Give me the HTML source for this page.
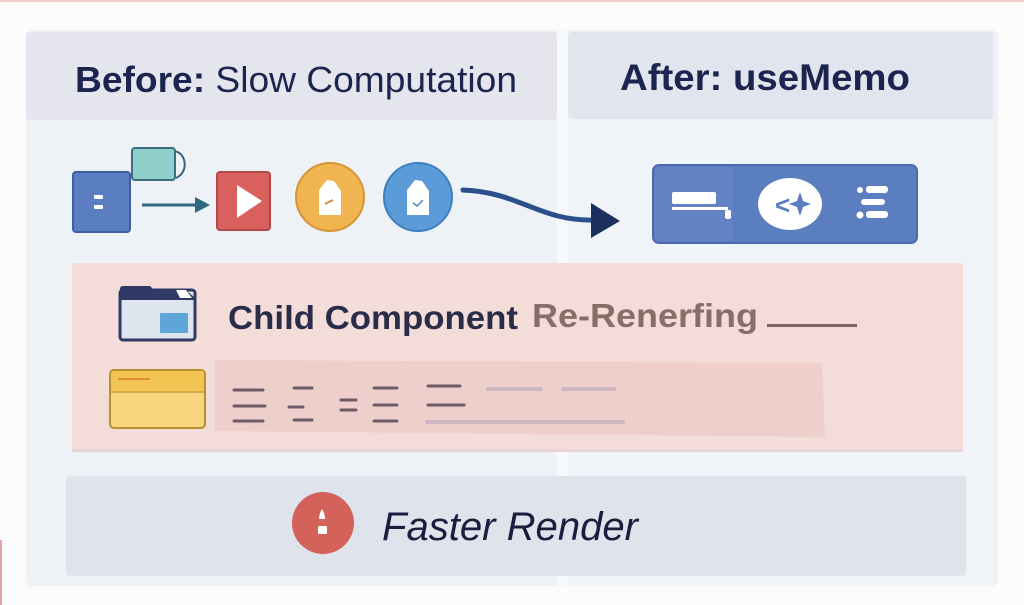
<!DOCTYPE html>
<html>
<head>
<meta charset="utf-8">
<style>
  html, body { margin: 0; padding: 0; background: #fbfbfc; }
  body { width: 1024px; height: 605px; overflow: hidden; }
  svg { display: block; }
</style>
</head>
<body>
<svg width="1024" height="605" viewBox="0 0 1024 605" xmlns="http://www.w3.org/2000/svg">
  <!-- page background -->
  <rect x="0" y="0" width="1024" height="605" fill="#fbfbfc"/>
  <rect x="0" y="0" width="1024" height="2" fill="#efd0cd"/>
  <rect x="0" y="540" width="2" height="65" fill="#d9a8a4"/>

  <!-- outer panel -->
  <rect x="26" y="30" width="972" height="556" rx="6" fill="#eef2f7"/>
  <!-- headers -->
  <rect x="26" y="32" width="531" height="88" rx="4" fill="#e5e5ee"/>
  <rect x="568" y="32" width="425" height="87" rx="4" fill="#e1e6ee"/>
  <!-- divider -->
  <rect x="557" y="30" width="11" height="556" fill="#f7f8fb"/>
  <rect x="568" y="119" width="425" height="467" fill="#f0f3f8"/>

  <!-- header texts -->
  <text x="75" y="92" font-family="Liberation Sans, sans-serif" font-size="36" fill="#1c2550" textLength="442" lengthAdjust="spacingAndGlyphs"><tspan font-weight="bold">Before:</tspan> Slow Computation</text>
  <text x="620" y="90" font-family="Liberation Sans, sans-serif" font-size="37" font-weight="bold" fill="#1c2550" textLength="290" lengthAdjust="spacingAndGlyphs">After: useMemo</text>

  <!-- icon row: left -->
  <!-- teal rect with loop -->
  <path d="M172,151 C186,150 190,172 176,178" fill="none" stroke="#3d5f80" stroke-width="2"/>
  <rect x="132" y="148" width="43" height="32" rx="3" fill="#8fd0cd" stroke="#3b6f80" stroke-width="2"/>
  <!-- blue square -->
  <rect x="73" y="172" width="57" height="60" rx="3" fill="#5b7ec2" stroke="#3d5f9f" stroke-width="2"/>
  <rect x="94" y="195" width="9" height="4" rx="1" fill="#ffffff"/>
  <rect x="94" y="205" width="9" height="4" rx="1" fill="#ffffff"/>
  <!-- arrow -->
  <line x1="142" y1="205" x2="198" y2="205" stroke="#2e6a80" stroke-width="3"/>
  <polygon points="195,197 210,205 195,213" fill="#2e6a80"/>
  <!-- red play -->
  <rect x="217" y="172" width="53" height="58" rx="3" fill="#d9605c" stroke="#b04a48" stroke-width="2"/>
  <polygon points="237,185 262,201 237,218" fill="#ffffff"/>
  <!-- orange circle -->
  <circle cx="330" cy="197" r="34" fill="#f0b450" stroke="#d69535" stroke-width="2"/>
  <path d="M319,190 L327,180 L334,181 L341,191 L341,215 L319,215 Z" fill="#ffffff"/>
  <line x1="325" y1="204" x2="333" y2="200" stroke="#d98a3a" stroke-width="2"/>
  <!-- blue circle -->
  <circle cx="418" cy="197" r="34" fill="#5a9bd8" stroke="#3f7fbf" stroke-width="2"/>
  <path d="M407,190 L415,180 L422,181 L429,191 L429,215 L407,215 Z" fill="#ffffff"/>
  <path d="M413,203 L417,206 L423,200" fill="none" stroke="#4a8ac8" stroke-width="1.5"/>
  <!-- curved arrow -->
  <path d="M463,190 C520,192 540,222 596,220" fill="none" stroke="#2b4f8a" stroke-width="5" stroke-linecap="round"/>
  <polygon points="591,203 620,221 591,238" fill="#1d2f5e"/>

  <!-- blue memo box -->
  <rect x="653" y="165" width="264" height="78" rx="6" fill="#5b7ec0" stroke="#4a6aaa" stroke-width="2"/>
  <rect x="655" y="167" width="78" height="74" rx="4" fill="#6384c4"/>
  <rect x="672" y="192" width="44" height="12" rx="2" fill="#ffffff"/>
  <rect x="672" y="207" width="56" height="3" fill="#ffffff"/>
  <rect x="725" y="210" width="6" height="9" rx="2" fill="#ffffff"/>
  <ellipse cx="790" cy="204" rx="32" ry="26" fill="#ffffff"/>
  <text x="775" y="214" font-family="Liberation Sans, sans-serif" font-size="26" font-weight="bold" fill="#5b7ec0">&lt;</text>
  <path d="M800,192 L803,201 L811,204 L803,207 L800,216 L797,207 L789,204 L797,201 Z" fill="#5b7ec0"/>
  <circle cx="860" cy="190" r="3" fill="#ffffff"/>
  <rect x="866" y="186" width="22" height="7" rx="3" fill="#ffffff"/>
  <rect x="861" y="199" width="24" height="6" rx="3" fill="#ffffff"/>
  <circle cx="860" cy="215" r="3.5" fill="#ffffff"/>
  <rect x="866" y="211" width="22" height="7" rx="3" fill="#ffffff"/>

  <!-- pink band -->
  <rect x="72" y="263" width="891" height="187" rx="3" fill="#f4dcd9"/>
  <rect x="72" y="449" width="891" height="3" fill="#e6d3d4"/>
  <polygon points="215,360 822,363 825,437 215,431" fill="#eecfcc"/>

  <!-- folder icon -->
  <rect x="120" y="290" width="75" height="50" rx="3" fill="#dfe5ef" stroke="#2f3a66" stroke-width="3"/>
  <path d="M120,300 L120,289 Q120,286 123,286 L150,286 L154,290 L186,290 L195,298 L195,300 Z" fill="#2f3a66"/>
  <path d="M176,290 L186,290 L192,298 L180,298 Z" fill="#ffffff"/>
  <rect x="160" y="313" width="28" height="20" rx="1" fill="#5ea6d8"/>

  <text x="228" y="329" font-family="Liberation Sans, sans-serif" font-size="33" font-weight="bold" fill="#2a2d4a" textLength="290" lengthAdjust="spacingAndGlyphs">Child Component</text>
  <text x="532" y="327" font-family="Liberation Sans, sans-serif" font-size="33" font-weight="bold" fill="#8a6d68" textLength="226" lengthAdjust="spacingAndGlyphs">Re-Renerfing</text>
  <rect x="767" y="324" width="90" height="3" fill="#7d6560"/>

  <!-- yellow card -->
  <rect x="110" y="370" width="95" height="58" rx="4" fill="#f7d67f" stroke="#b8912e" stroke-width="2"/>
  <path d="M111,392 L111,374 Q111,371 114,371 L201,371 Q204,371 204,374 L204,392 Z" fill="#f2c552"/>
  <line x1="111" y1="392" x2="204" y2="392" stroke="#c9a23c" stroke-width="1.5"/>
  <line x1="118" y1="379" x2="150" y2="379" stroke="#e08a3a" stroke-width="2"/>

  <!-- dashes -->
  <g stroke="#6e5b68" stroke-width="3" stroke-linecap="round">
    <line x1="234" y1="390" x2="263" y2="390"/>
    <line x1="234" y1="406" x2="265" y2="406"/>
    <line x1="234" y1="421" x2="263" y2="421"/>
    <line x1="294" y1="388" x2="312" y2="388"/>
    <line x1="289" y1="407" x2="303" y2="407"/>
    <line x1="294" y1="420" x2="312" y2="420"/>
    <line x1="341" y1="400" x2="356" y2="400"/>
    <line x1="341" y1="410" x2="356" y2="410"/>
    <line x1="374" y1="388" x2="397" y2="388"/>
    <line x1="374" y1="405" x2="397" y2="405"/>
    <line x1="374" y1="421" x2="397" y2="421"/>
    <line x1="428" y1="386" x2="460" y2="386"/>
    <line x1="428" y1="405" x2="464" y2="405"/>
  </g>
  <g stroke="#cbb6c1" stroke-width="4" stroke-linecap="round">
    <line x1="488" y1="389" x2="541" y2="389"/>
    <line x1="563" y1="389" x2="614" y2="389"/>
    <line x1="427" y1="422" x2="623" y2="422"/>
  </g>

  <!-- bottom bar -->
  <rect x="66" y="476" width="900" height="100" rx="4" fill="#dfe4ec"/>
  <circle cx="323" cy="523" r="31" fill="#d2625a"/>
  <path d="M322,509 Q325,514 325,519 L319,519 Q319,514 322,509 Z" fill="#ffffff"/>
  <rect x="318" y="526" width="9" height="8" rx="1" fill="#ffffff"/>
  <text x="382" y="540" font-family="Liberation Sans, sans-serif" font-size="40" font-style="italic" fill="#1a1d3d" textLength="256" lengthAdjust="spacingAndGlyphs">Faster Render</text>
</svg>
</body>
</html>
